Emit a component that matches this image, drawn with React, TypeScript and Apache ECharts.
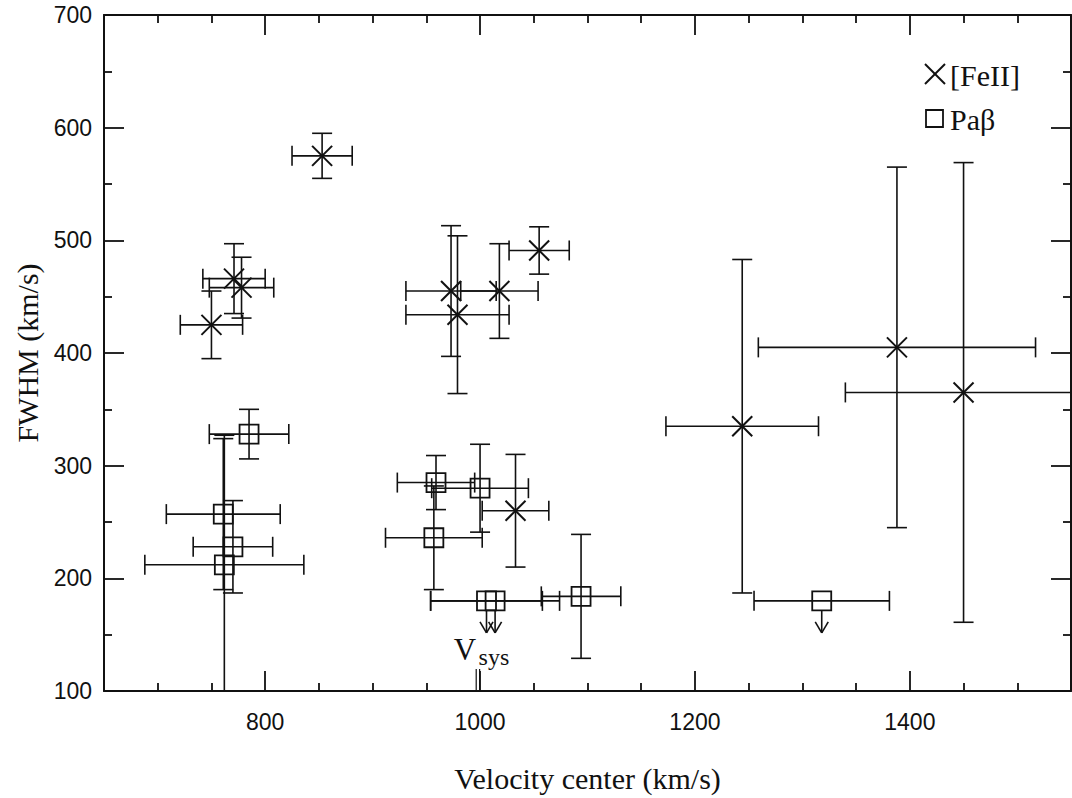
import React, { useEffect, useRef } from "react";
import * as echarts from "echarts";

// ---- data ----
const X_MIN = 650;
const X_MAX = 1550;
const Y_MIN = 100;
const Y_MAX = 700;
const xMajorTicks = [800, 1000, 1200, 1400];
const xMinorTicks = [700, 750, 850, 900, 950, 1050, 1100, 1150, 1250, 1300, 1350, 1450, 1500];

// [FeII]: velocity center, FWHM, errors
const feX = [771, 778, 750, 853, 973, 1018, 979, 1055, 1033, 1244, 1388, 1450];
const feY = [466, 458, 425, 575, 455, 455, 434, 491, 260, 335, 405, 365];
const feXErr = [29, 30, 29, 28, 42, 36, 48, 28, 31, 71, 129, 110];
const feYErr = [31, 27, 30, 20, 58, 42, 70, 21, 50, 148, 160, 204];

// Pa beta measured
const paX = [959, 1000, 957, 1094, 785, 761, 770, 762];
const paY = [285, 280, 236, 184, 328, 257, 228, 212];
const paXErr = [36, 45, 45, 37, 37, 53, 37, 74];
const paYErr = [24, 39, 46, 55, 22, 67, 41, 115];

// Pa beta upper limits
const ulX = [1006, 1014, 1318];
const ulY = [180, 180, 180];
const ulXErr = [52, 60, 63];

const vSys = 998;

const INK = "#111";
const LW = 1.6;
const CAP = 10;
const SERIF = "'Liberation Serif', 'Times New Roman', serif";
const SANS = "'Liberation Sans', Arial, Helvetica, sans-serif";

function ln(x1: number, y1: number, x2: number, y2: number, w = LW) {
  return {
    type: "line",
    shape: { x1, y1, x2, y2 },
    style: { stroke: INK, lineWidth: w, fill: null },
  };
}

function hBar(api: any, x: number, y: number, ex: number) {
  const l = api.coord([x - ex, y]);
  const r = api.coord([x + ex, y]);
  return [
    ln(l[0], l[1], r[0], r[1]),
    ln(l[0], l[1] - CAP, l[0], l[1] + CAP),
    ln(r[0], r[1] - CAP, r[0], r[1] + CAP),
  ];
}

function vBar(api: any, x: number, y: number, ey: number) {
  const t = api.coord([x, y + ey]);
  const b = api.coord([x, y - ey]);
  return [
    ln(t[0], t[1], b[0], b[1]),
    ln(t[0] - CAP, t[1], t[0] + CAP, t[1]),
    ln(b[0] - CAP, b[1], b[0] + CAP, b[1]),
  ];
}

function crossMark(cx: number, cy: number, s = 10) {
  return [ln(cx - s, cy - s, cx + s, cy + s, 2), ln(cx - s, cy + s, cx + s, cy - s, 2)];
}

function squareMark(cx: number, cy: number, s = 9.5) {
  return {
    type: "rect",
    shape: { x: cx - s, y: cy - s, width: 2 * s, height: 2 * s },
    style: { stroke: INK, lineWidth: 1.8, fill: null },
  };
}

const feData = feX.map((x, i) => [x, feY[i], feXErr[i], feYErr[i]]);
const paData = paX.map((x, i) => [x, paY[i], paXErr[i], paYErr[i]]);
const ulData = ulX.map((x, i) => [x, ulY[i], ulXErr[i]]);

export default function App() {
  const ref = useRef<HTMLDivElement>(null);

  useEffect(() => {
    if (!ref.current) return;
    const chart = echarts.init(ref.current, null, { renderer: "svg" });

    const baseX = {
      type: "value",
      min: X_MIN,
      max: X_MAX,
      splitLine: { show: false },
    };
    const baseY = {
      type: "value",
      min: Y_MIN,
      max: Y_MAX,
      interval: 100,
      splitLine: { show: false },
    };

    const option: any = {
      animation: false,
      backgroundColor: "#fff",
      grid: {
        left: 104,
        right: 1,
        top: 15,
        bottom: 107,
        containLabel: false,
      },
      xAxis: [
        {
          ...baseX,
          position: "bottom",
          name: "Velocity center (km/s)",
          nameLocation: "middle",
          nameGap: 72,
          nameTextStyle: { fontFamily: SERIF, fontSize: 30, color: INK },
          axisLine: { show: true, onZero: false, lineStyle: { color: INK, width: 2 } },
          axisTick: { show: true, inside: true, length: 20, customValues: xMajorTicks, lineStyle: { color: INK, width: 1.8 } },
          axisLabel: {
            show: true,
            customValues: xMajorTicks,
            margin: 19,
            fontFamily: SANS,
            fontSize: 23,
            color: INK,
            formatter: (v: number) => String(Math.round(v)),
          },
        },
        {
          ...baseX,
          position: "bottom",
          axisLine: { show: false, onZero: false },
          axisTick: { show: true, inside: true, length: 8, customValues: xMinorTicks, lineStyle: { color: INK, width: 1.8 } },
          axisLabel: { show: false },
        },
        {
          ...baseX,
          position: "top",
          axisLine: { show: true, onZero: false, lineStyle: { color: INK, width: 2 } },
          axisTick: { show: true, inside: true, length: 20, customValues: xMajorTicks, lineStyle: { color: INK, width: 1.8 } },
          axisLabel: { show: false },
        },
        {
          ...baseX,
          position: "top",
          axisLine: { show: false, onZero: false },
          axisTick: { show: true, inside: true, length: 8, customValues: xMinorTicks, lineStyle: { color: INK, width: 1.8 } },
          axisLabel: { show: false },
        },
      ],
      yAxis: [
        {
          ...baseY,
          position: "left",
          name: "FWHM (km/s)",
          nameLocation: "middle",
          nameGap: 58,
          nameTextStyle: { fontFamily: SERIF, fontSize: 30, color: INK },
          axisLine: { show: true, onZero: false, lineStyle: { color: INK, width: 2 } },
          axisTick: { show: true, inside: true, length: 20, lineStyle: { color: INK, width: 1.8 } },
          minorTick: { show: true, splitNumber: 2, length: 8, lineStyle: { color: INK, width: 1.8 } },
          axisLabel: {
            show: true,
            margin: 12,
            fontFamily: SANS,
            fontSize: 23,
            color: INK,
            formatter: (v: number) => String(Math.round(v)),
          },
        },
        {
          ...baseY,
          position: "right",
          axisLine: { show: true, onZero: false, lineStyle: { color: INK, width: 2 } },
          axisTick: { show: true, inside: true, length: 20, lineStyle: { color: INK, width: 1.8 } },
          minorTick: { show: true, splitNumber: 2, length: 8, lineStyle: { color: INK, width: 1.8 } },
          axisLabel: { show: false },
        },
      ],
      series: [
        {
          name: "[FeII]",
          type: "custom",
          xAxisIndex: 0,
          yAxisIndex: 0,
          clip: true,
          encode: { x: 0, y: 1 },
          data: feData,
          renderItem: (params: any, api: any) => {
            const x = api.value(0), y = api.value(1), ex = api.value(2), ey = api.value(3);
            const c = api.coord([x, y]);
            return {
              type: "group",
              children: [...hBar(api, x, y, ex), ...vBar(api, x, y, ey), ...crossMark(c[0], c[1])],
            };
          },
        },
        {
          name: "Paβ",
          type: "custom",
          xAxisIndex: 0,
          yAxisIndex: 0,
          clip: true,
          encode: { x: 0, y: 1 },
          data: paData,
          renderItem: (params: any, api: any) => {
            const x = api.value(0), y = api.value(1), ex = api.value(2), ey = api.value(3);
            const c = api.coord([x, y]);
            return {
              type: "group",
              children: [...hBar(api, x, y, ex), ...vBar(api, x, y, ey), squareMark(c[0], c[1])],
            };
          },
        },
        {
          name: "Paβ upper limits",
          type: "custom",
          xAxisIndex: 0,
          yAxisIndex: 0,
          clip: true,
          encode: { x: 0, y: 1 },
          data: ulData,
          renderItem: (params: any, api: any) => {
            const x = api.value(0), y = api.value(1), ex = api.value(2);
            const c = api.coord([x, y]);
            const tip = c[1] + 32;
            return {
              type: "group",
              children: [
                ...hBar(api, x, y, ex),
                squareMark(c[0], c[1]),
                ln(c[0], c[1] + 9.5, c[0], tip),
                ln(c[0] - 6.5, tip - 11, c[0], tip),
                ln(c[0] + 6.5, tip - 11, c[0], tip),
              ],
            };
          },
        },
        {
          name: "Vsys",
          type: "custom",
          xAxisIndex: 0,
          yAxisIndex: 0,
          clip: false,
          encode: { x: 0 },
          data: [[vSys, Y_MIN]],
          renderItem: (params: any, api: any) => {
            const c = api.coord([api.value(0), api.value(1)]);
            return {
              type: "group",
              children: [
                ln(c[0] - 1.7, c[1] - 22, c[0] - 1.7, c[1], 1.2),
                ln(c[0] + 1.7, c[1] - 22, c[0] + 1.7, c[1], 1.2),
                {
                  type: "text",
                  style: {
                    text: "V",
                    x: c[0] - 13,
                    y: c[1] - 42,
                    align: "center",
                    verticalAlign: "middle",
                    font: `31px ${SERIF}`,
                    fill: INK,
                  },
                },
                {
                  type: "text",
                  style: {
                    text: "sys",
                    x: c[0] + 16,
                    y: c[1] - 34,
                    align: "center",
                    verticalAlign: "middle",
                    font: `24px ${SERIF}`,
                    fill: INK,
                  },
                },
              ],
            };
          },
        },
      ],
      graphic: [
        { type: "line", shape: { x1: 925, y1: 64, x2: 945, y2: 84 }, style: { stroke: INK, lineWidth: 2 } },
        { type: "line", shape: { x1: 925, y1: 84, x2: 945, y2: 64 }, style: { stroke: INK, lineWidth: 2 } },
        {
          type: "text",
          x: 950,
          y: 75,
          style: { text: "[FeII]", font: `30px ${SERIF}`, fill: INK, verticalAlign: "middle", align: "left" },
        },
        { type: "rect", shape: { x: 926, y: 110, width: 17, height: 17 }, style: { stroke: INK, lineWidth: 1.8, fill: "none" } },
        {
          type: "text",
          x: 950,
          y: 119,
          style: { text: "Paβ", font: `30px ${SERIF}`, fill: INK, verticalAlign: "middle", align: "left" },
        },
      ],
    };

    chart.setOption(option);
    return () => chart.dispose();
  }, []);

  return (
    <div
      ref={ref}
      style={{ position: "absolute", left: 0, top: 0, width: 1072, height: 798, background: "#fff" }}
    />
  );
}
